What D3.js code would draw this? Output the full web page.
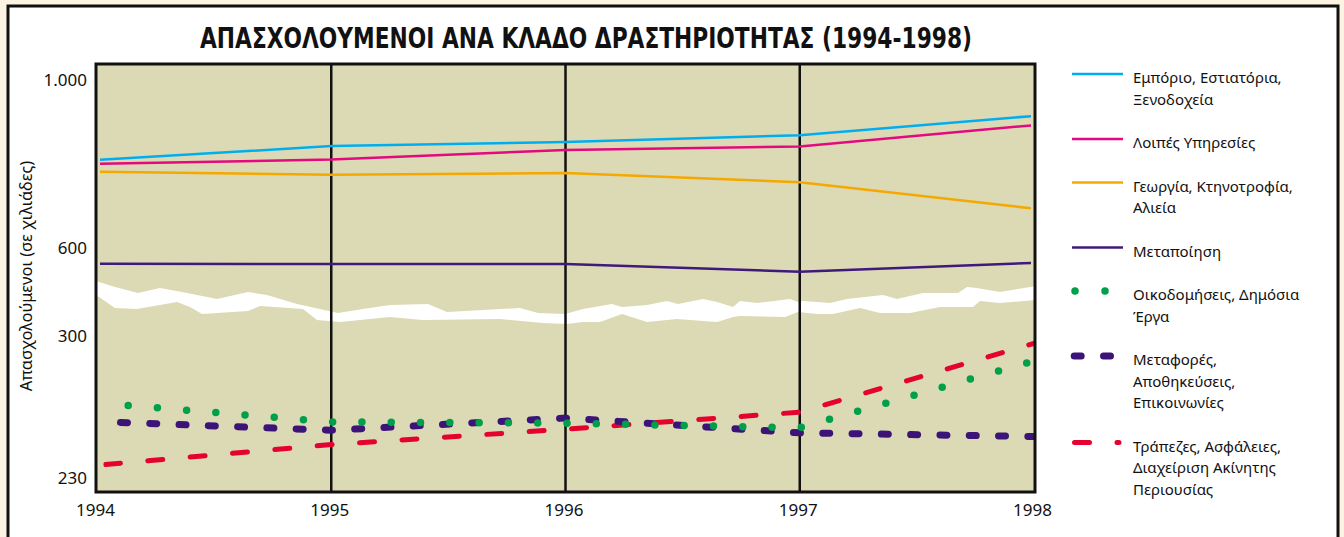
<!DOCTYPE html>
<html>
<head>
<meta charset="utf-8">
<script src="https://cdn.jsdelivr.net/npm/d3@7"></script>
<style>
body { margin: 0; background: #fcf3e2; }
svg { display: block; }
text { font-family: "Noto Sans", "DejaVu Sans", sans-serif; fill: #111; }
</style>
</head>
<body>
<svg width="1344" height="537"></svg>
<script>
// data (thousands of employed persons)
var years = [1994, 1995, 1996, 1997, 1998];
var trade = [805, 838, 848, 864, 910];
var services = [796, 806, 829, 837, 888];
var agriculture = [777, 770, 774, 752, 689];
var manufacturing = [558, 557, 557, 539, 560];
var construction = [266, 256.6, 256, 253.7, 286.7];
var transport = [256.8, 252.5, 258.5, 251.2, 249.4];
var banking = [235.2, 245.4, 253.0, 261.4, 295.4];

var yTicks = [230, 300, 600, 1000];

var legendLabels = [
    ["Εμπόριο, Εστιατόρια,", "Ξενοδοχεία"],
    ["Λοιπές Υπηρεσίες"],
    ["Γεωργία, Κτηνοτροφία,", "Αλιεία"],
    ["Μεταποίηση"],
    ["Οικοδομήσεις, Δημόσια", "Έργα"],
    ["Μεταφορές,", "Αποθηκεύσεις,", "Επικοινωνίες"],
    ["Τράπεζες, Ασφάλειες,", "Διαχείριση Ακίνητης", "Περιουσίας"]
];

// torn-paper break band (decoration only)
var tearTop = [[96,281],[99,282],[115,287],[138,293],[160,288],[182,292],[217,299],[248,292],[267,295],[297,304],[338,313],[363,309],
    [390,305],[428,304],[447,312],[520,308],[538,313],[565,314],[583,309],[612,304],[622,307],[647,305],[667,301],
    [678,304],[703,299],[717,302],[733,307],[740,301],[757,303],[790,299],[798,302],[803,301],[830,303],[847,299],
    [883,295],[897,299],[923,293],[958,293],[967,287],[977,288],[1000,292],[1036,286]];
var tearBottom = [[96,296],[99,297],[115,308],[137,309],[177,302],[190,307],[202,314],[248,311],[260,306],[303,309],[317,320],
    [340,322],[370,319],[390,317],[423,320],[500,319],[543,323],[567,324],[583,322],[600,322],[622,314],[647,322],
    [677,319],[717,322],[733,317],[740,316],[785,317],[798,312],[817,314],[833,314],[860,308],[880,313],[910,313],
    [940,307],[973,307],[980,301],[1000,303],[1036,300]];

var series = [
    {label: legendLabels[0], values: trade,         color: "#00aeef", width: 2.5, dash: null,      offset: 0,    clip: "clipUp",  z: 0},
    {label: legendLabels[1], values: services,      color: "#e5097f", width: 2.5, dash: null,      offset: 0,    clip: "clipUp",  z: 1},
    {label: legendLabels[2], values: agriculture,   color: "#f5a800", width: 2.5, dash: null,      offset: 0,    clip: "clipUp",  z: 2},
    {label: legendLabels[3], values: manufacturing, color: "#3f1a7a", width: 2.5, dash: null,      offset: 0,    clip: "clipUp",  z: 3},
    {label: legendLabels[4], values: construction,  color: "#00a04b", width: 7.5, dash: "0 29.3",  offset: 27.3, clip: "clipLow", z: 6},
    {label: legendLabels[5], values: transport,     color: "#3c1478", width: 7,   dash: "7 22.3",  offset: 5.8,  clip: "clipLow", z: 5},
    {label: legendLabels[6], values: banking,       color: "#e4032e", width: 5,   dash: "15 27.5", offset: 34,   clip: "clipLow", z: 4}
];

var svg = d3.select("svg");

var plot = {left: 96, right: 1035, top: 64, bottom: 492};

var x = d3.scaleLinear().domain([1994, 1998]).range([97, 1034]);
// broken axis: 222-300 stretched below the tear, 480-1036 compressed above it
var y = d3.scaleLinear().domain([222, 300, 480, 1036]).range([492, 334, 296.4, 63]);

// outer white panel
svg.append("rect")
    .attr("x", 8).attr("y", 6).attr("width", 1330).attr("height", 560)
    .style("fill", "#fff").style("stroke", "#111").style("stroke-width", 3);

// title
svg.append("text")
    .attr("x", 586).attr("y", 48)
    .attr("text-anchor", "middle")
    .attr("textLength", 772).attr("lengthAdjust", "spacingAndGlyphs")
    .style("font-family", "'DejaVu Sans Condensed', 'Liberation Sans Narrow', sans-serif")
    .style("font-stretch", "condensed")
    .style("font-weight", "bold")
    .style("font-size", "28px")
    .text("ΑΠΑΣΧΟΛΟΥΜΕΝΟΙ ΑΝΑ ΚΛΑΔΟ ΔΡΑΣΤΗΡΙΟΤΗΤΑΣ (1994-1998)");

var defs = svg.append("defs");
defs.append("clipPath").attr("id", "clipUp")
    .append("rect").attr("x", 100).attr("y", plot.top).attr("width", 931).attr("height", plot.bottom - plot.top);
defs.append("clipPath").attr("id", "clipLow")
    .append("rect").attr("x", 103.5).attr("y", plot.top).attr("width", 930.5).attr("height", plot.bottom - plot.top);
defs.append("clipPath").attr("id", "clipPlot")
    .append("rect").attr("x", plot.left).attr("y", plot.top).attr("width", plot.right - plot.left).attr("height", plot.bottom - plot.top);

// plot background
svg.append("rect")
    .attr("x", plot.left).attr("y", plot.top)
    .attr("width", plot.right - plot.left).attr("height", plot.bottom - plot.top)
    .style("fill", "#dcdab4");

// break band
svg.append("path")
    .attr("clip-path", "url(#clipPlot)")
    .attr("d", "M" + tearTop.concat(tearBottom.slice().reverse()).join("L") + "Z")
    .style("fill", "#fff");

// vertical year lines
svg.append("g").selectAll("line")
    .data(years.slice(1, -1))
    .enter().append("line")
    .attr("x1", function(d) { return x(d); })
    .attr("x2", function(d) { return x(d); })
    .attr("y1", plot.top).attr("y2", plot.bottom)
    .style("stroke", "#111").style("stroke-width", 2.5);

var line = d3.line()
    .x(function(d, i) { return x(years[i]); })
    .y(function(d) { return y(d); });

// draw order: red under purple under green dots
var drawOrder = series.slice().sort(function(a, b) { return a.z - b.z; });

svg.append("g").selectAll("path")
    .data(drawOrder)
    .enter().append("path")
    .attr("clip-path", function(d) { return "url(#" + d.clip + ")"; })
    .attr("d", function(d) { return line(d.values); })
    .style("fill", "none")
    .style("stroke", function(d) { return d.color; })
    .style("stroke-width", function(d) { return d.width; })
    .style("stroke-linecap", function(d) { return d.dash ? "round" : "butt"; })
    .style("stroke-dasharray", function(d) { return d.dash; })
    .style("stroke-dashoffset", function(d) { return d.offset; });

// plot frame
svg.append("rect")
    .attr("x", plot.left).attr("y", plot.top)
    .attr("width", plot.right - plot.left).attr("height", plot.bottom - plot.top)
    .style("fill", "none").style("stroke", "#111").style("stroke-width", 3);

// axes
var yAxis = svg.append("g")
    .attr("transform", "translate(" + plot.left + ",2)")
    .call(d3.axisLeft(y).tickValues(yTicks).tickSize(0).tickPadding(9)
        .tickFormat(function(d) { return d === 1000 ? "1.000" : d; }));
yAxis.select(".domain").remove();
yAxis.selectAll("text").style("font-size", "17px").style("fill", "#111");

var xAxis = svg.append("g")
    .attr("transform", "translate(-2," + plot.bottom + ")")
    .call(d3.axisBottom(x).tickValues(years).tickSize(0).tickPadding(12).tickFormat(d3.format("d")));
xAxis.select(".domain").remove();
xAxis.selectAll("text").style("font-size", "17px").style("fill", "#111");

svg.append("text")
    .attr("transform", "translate(32,276) rotate(-90)")
    .attr("text-anchor", "middle")
    .style("font-size", "16.5px")
    .text("Απασχολούμενοι (σε χιλιάδες)");

// legend
var lineH = 21.5, gapH = 22;
var legendY = [];
var cy = 78;
series.forEach(function(s) { legendY.push(cy); cy += s.label.length * lineH + gapH; });

var legend = svg.append("g").selectAll("g")
    .data(series)
    .enter().append("g")
    .attr("transform", function(d, i) { return "translate(0," + legendY[i] + ")"; });

legend.append("line")
    .attr("x1", function(d) { return d.dash ? (d.width === 5 ? 1074.5 : (d.dash === "0 29.3" ? 1075 : 1074.2)) : 1072; })
    .attr("x2", function(d) { return d.dash ? (d.width === 5 ? 1119 : (d.dash === "0 29.3" ? 1106 : 1112)) : 1123; })
    .attr("y1", -4).attr("y2", -4)
    .style("stroke", function(d) { return d.color; })
    .style("stroke-width", function(d) { return d.width; })
    .style("stroke-linecap", function(d) { return d.dash ? "round" : "butt"; })
    .style("stroke-dasharray", function(d) { return d.dash === "0 29.3" ? "0 30" : d.dash; });

legend.append("text")
    .attr("x", 1133)
    .style("font-size", "15px")
    .selectAll("tspan")
    .data(function(d) { return d.label; })
    .enter().append("tspan")
    .attr("x", 1133)
    .attr("y", function(d, i) { return i * lineH; })
    .attr("dy", "0.35em")
    .text(function(d) { return d; });
</script>
</body>
</html>
